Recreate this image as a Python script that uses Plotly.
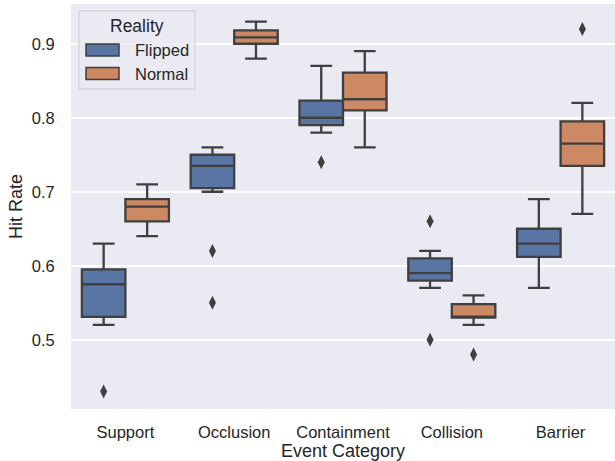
import plotly.graph_objects as go

categories = ["Support", "Occlusion", "Containment", "Collision", "Barrier"]
hues = ["Flipped", "Normal"]
colors = ["#5975A4", "#CC8963"]

flipped_lower = [0.52, 0.70, 0.78, 0.57, 0.57]
flipped_q1 = [0.531, 0.705, 0.79, 0.58, 0.612]
flipped_median = [0.575, 0.735, 0.80, 0.59, 0.63]
flipped_q3 = [0.595, 0.75, 0.823, 0.61, 0.65]
flipped_upper = [0.63, 0.76, 0.87, 0.62, 0.69]
flipped_outliers = [[0.43], [0.62, 0.55], [0.74], [0.66, 0.50], []]

normal_lower = [0.64, 0.88, 0.76, 0.52, 0.67]
normal_q1 = [0.66, 0.90, 0.81, 0.53, 0.735]
normal_median = [0.68, 0.9085, 0.825, 0.53, 0.765]
normal_q3 = [0.69, 0.918, 0.861, 0.548, 0.795]
normal_upper = [0.71, 0.93, 0.89, 0.56, 0.82]
normal_outliers = [[], [], [], [0.48], [0.92]]

stats = [
    (flipped_lower, flipped_q1, flipped_median, flipped_q3, flipped_upper, flipped_outliers),
    (normal_lower, normal_q1, normal_median, normal_q3, normal_upper, normal_outliers),
]

LINE = "#3F3F3F"
FONT = "Liberation Sans, Arial, sans-serif"
W, H = 615, 461
ML, MR, MT, MB = 71, 0, 4, 52
PW, PH = W - ML - MR, H - MT - MB

fig = go.Figure()
offsets = [-0.2, 0.2]
for h, (name, col, st, off) in enumerate(zip(hues, colors, stats, offsets)):
    lo, q1, med, q3, up, outs = st
    xs = [i + off for i in range(len(categories))]
    fig.add_trace(go.Box(
        x=xs, lowerfence=lo, q1=q1, median=med, q3=q3, upperfence=up,
        width=0.4, fillcolor=col, line=dict(color=LINE, width=2.3),
        whiskerwidth=0.5, boxpoints=False, name=name, showlegend=False,
        hoverinfo="skip",
    ))
    ox, oy = [], []
    for i, vals in enumerate(outs):
        for v in vals:
            ox.append(i + off)
            oy.append(v)
    fig.add_trace(go.Scatter(
        x=ox, y=oy, mode="markers", showlegend=False, hoverinfo="skip",
        marker=dict(symbol="diamond-tall", size=10, color=LINE, line=dict(width=0)),
    ))

def px(xp):
    return (xp - ML) / PW

def py(yp):
    return (H - MB - yp) / PH

shapes = [dict(type="rect", xref="paper", yref="paper",
               x0=px(79), x1=px(195), y0=py(89), y1=py(11),
               fillcolor="rgba(234,234,242,0.8)", line=dict(color="#CCCCCC", width=1), layer="above")]
annotations = [dict(text="Reality", xref="paper", yref="paper", x=px(137), y=py(26),
                    showarrow=False, font=dict(size=17.5, color="#262626", family=FONT),
                    xanchor="center", yanchor="middle")]
for k, (name, col) in enumerate(zip(hues, colors)):
    yc = 50 + k * 23.5
    shapes.append(dict(type="rect", xref="paper", yref="paper",
                       x0=px(86), x1=px(119), y0=py(yc + 6), y1=py(yc - 6),
                       fillcolor=col, line=dict(color=LINE, width=1.5), layer="above"))
    annotations.append(dict(text=name, xref="paper", yref="paper", x=px(133), y=py(yc),
                            showarrow=False, font=dict(size=16.5, color="#262626", family=FONT),
                            xanchor="left", yanchor="middle"))

fig.update_layout(
    width=W, height=H, margin=dict(l=ML, r=MR, t=MT, b=MB),
    paper_bgcolor="white", plot_bgcolor="#EAEAF2",
    font=dict(family=FONT, size=16.5, color="#262626"),
    shapes=shapes, annotations=annotations, showlegend=False,
)
fig.update_xaxes(
    range=[-0.5, 4.5], tickvals=list(range(len(categories))), ticktext=categories,
    showgrid=False, zeroline=False, showline=False, automargin=False,
    ticks="outside", ticklen=8, tickcolor="rgba(0,0,0,0)",
    title=dict(text="Event Category", font=dict(size=18), standoff=8),
)
fig.update_yaxes(
    range=[0.4064, 0.9537], tickvals=[0.5, 0.6, 0.7, 0.8, 0.9], tickformat=".1f",
    showgrid=True, gridcolor="white", gridwidth=1.5, zeroline=False, showline=False,
    automargin=False,
    ticks="outside", ticklen=12, tickcolor="rgba(0,0,0,0)",
    title=dict(text="Hit Rate", font=dict(size=18), standoff=4),
)
fig.write_html("out.html", config={"displayModeBar": False},
               post_script="document.body.style.margin='0';document.body.style.overflow='hidden';")
